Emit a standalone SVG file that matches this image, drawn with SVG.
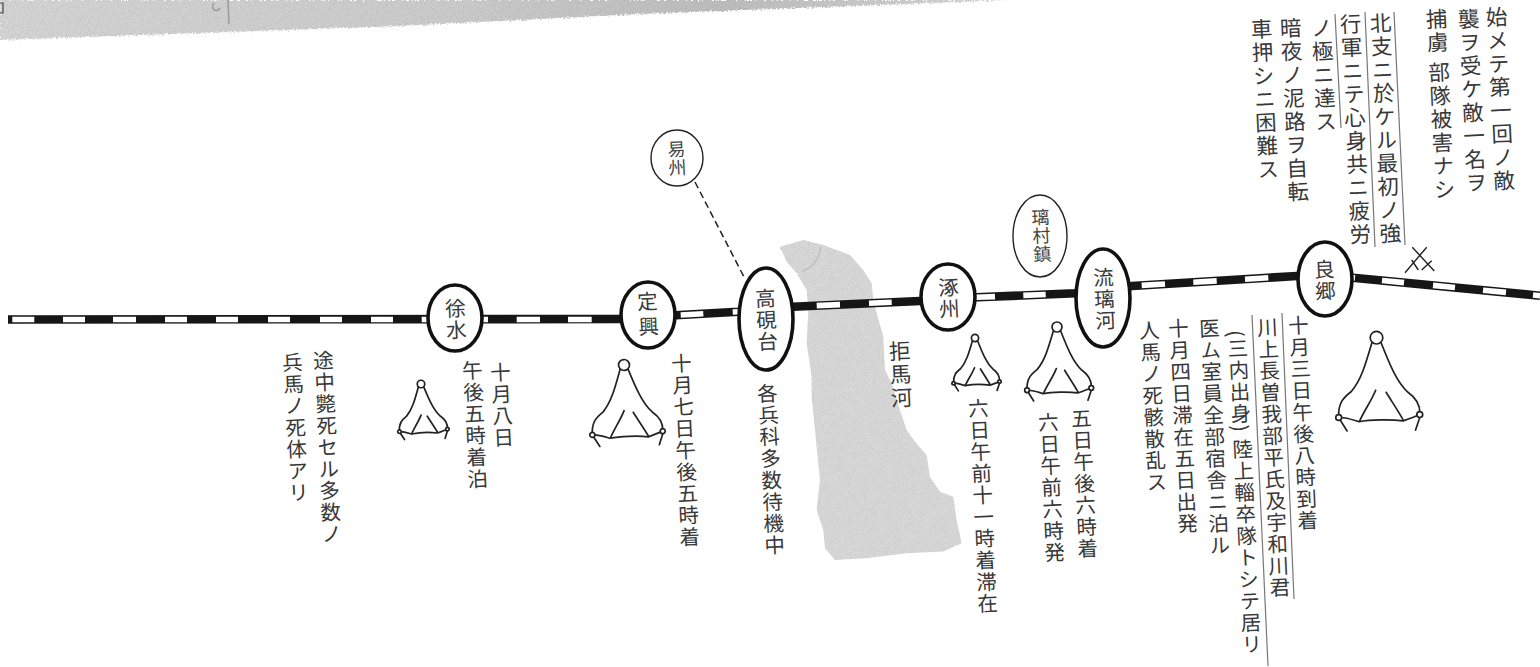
<svg xmlns="http://www.w3.org/2000/svg" xmlns:xlink="http://www.w3.org/1999/xlink" width="1540" height="667" viewBox="0 0 1540 667">
<style>
text{font-family:"Noto Sans CJK JP","Noto Sans CJK SC",sans-serif;writing-mode:vertical-rl;fill:#383838;font-weight:400}
.a{font-size:20.5px;letter-spacing:1.2px}
.t{font-size:21.5px;letter-spacing:1.9px}
.n{font-size:20.5px;letter-spacing:1px;fill:#3a3a3a}
.s{font-size:18px;letter-spacing:.5px;fill:#444}
.st{fill:#fff;stroke:#111;stroke-width:3.6}
.th{fill:#fff;stroke:#222;stroke-width:1.4}
.tent *{fill:none;stroke:#222;stroke-width:1.7;vector-effect:non-scaling-stroke;stroke-linecap:round;stroke-linejoin:round}
.tent circle{fill:#fff}
.rule{stroke:#777;stroke-width:1.2;fill:none}
</style>
<defs>
<linearGradient id="band" x1="0" y1="0" x2="1" y2="0">
<stop offset="0" stop-color="#d4d4d4"/><stop offset=".45" stop-color="#cbcbcb"/><stop offset=".72" stop-color="#bdbdbd"/><stop offset="1" stop-color="#d6d6d6"/>
</linearGradient>
<filter id="grain" x="-5%" y="-5%" width="110%" height="110%">
<feTurbulence type="fractalNoise" baseFrequency=".6" numOctaves="2" seed="4" result="n"/>
<feDisplacementMap in="SourceGraphic" in2="n" scale="5" xChannelSelector="R" yChannelSelector="G" result="d"/>
<feColorMatrix in="n" type="matrix" values="0 0 0 0 0  0 0 0 0 0  0 0 0 0 0  .3 0 0 0 -.12" result="sp"/>
<feComposite in="sp" in2="d" operator="in" result="spk"/>
<feMerge><feMergeNode in="d"/><feMergeNode in="spk"/></feMerge>
</filter>
<g id="tent" class="tent">
<circle cx="0" cy="0" r="15"/>
<path d="M-11,12C-25,60-36,100-60,128C-78,142-92,155-90,190"/>
<path d="M11,12C30,60 48,106 75,130C92,142 104,160 103,180"/>
<path d="M-87,190C-70,190-55,196-42,200C-15,195 35,194 63,198C75,194 90,188 103,183"/>
<path d="M-87,195L-70,222M103,190L93,220"/>
<path d="M-2,125C-12,150-30,175-40,198M23,130C35,150 52,175 63,195"/>
<circle cx="-90" cy="190" r="7"/><circle cx="103" cy="183" r="7"/>
</g>
</defs>

<polygon points="0,0 1010,0 800,8 640,14 400,26 200,33 0,40" fill="url(#band)" filter="url(#grain)"/>
<path d="M228,0L229,24M214,3C210,8 216,14 220,8" stroke="#9a9a9a" stroke-width="1.5" fill="none"/>
<path d="M0,3H3V13H0" stroke="#444" stroke-width="1.2" fill="none"/>

<g id="river">
<g transform="translate(590 130) scale(.3333)">
<polygon fill="#d8d8d8" filter="url(#grain)" points="570,350 640,330 700,345 780,375 820,420 845,460 850,510 860,550 880,620 885,720 905,760 930,840 950,900 975,935 1010,975 1020,1040 1050,1085 1090,1100 1100,1170 1115,1240 1060,1265 950,1270 830,1285 735,1290 705,1255 700,1200 680,1140 690,1050 680,950 665,800 665,740 650,640 655,540 650,480 620,430 590,395"/>
<path d="M692,350C690,385 670,410 635,425" fill="none" stroke="#bdbdbd" stroke-width="4"/>
</g>
</g>

<g id="connectors">
<polyline fill="none" stroke="#161616" stroke-width="8.6" points="8,319.5 621,319 648,317 680,315 738,311.7 793,306.7 920,301 977,297.3 1075,293.3 1132,286 1297,276 1325,274 1353,277.7 1540,295.7"/>
<path fill="none" stroke="#fff" stroke-width="5.6" d="M12.3,319.5H34.3M63,319.5H85M113,319.5H136M165,319.5H187M216,319.5H238M268,319.5H290M320,319.5H342M371,319.5H393M421.7,319.5H427M482.7,319.5H488M516.7,319.5H540M568,319.5H591.7M680.7,315L703.3,313.7M732.7,312L738,311.7M816.7,305.6L840,304.6M869,303.3L891.7,302.3M975.7,297.3L995,296.6M1023.3,295.4L1045.7,294.5M1141.7,285.4L1165,284M1193.3,282.3L1216.7,280.9M1245,279.2L1268.3,277.7M1353,277.7L1355,277.9M1382,280.5L1404,282.6M1433,285.4L1455,287.5M1483,290.2L1506,292.4M1533,295L1540,295.7"/>
<line x1="695" y1="182" x2="744" y2="277" stroke="#222" stroke-width="1.5" stroke-dasharray="7 4"/>
</g>

<g id="node-xushui"><ellipse class="st" cx="455" cy="318" rx="27" ry="33"/><text class="n" transform="translate(455 298) rotate(-2.7)">徐水</text></g>
<g id="node-dingxing"><ellipse class="st" cx="648" cy="315" rx="27" ry="33"/><text class="n" style="letter-spacing:4.5px" transform="translate(647 291) rotate(-2.7)">定興</text></g>
<g id="node-gaoyantai"><ellipse class="st" cx="766" cy="319" rx="27" ry="51"/><text class="n" transform="translate(765 288) rotate(-2.7)">高硯台</text></g>
<g id="node-zhuozhou"><ellipse class="st" cx="948" cy="297" rx="27" ry="33"/><text class="n" transform="translate(948 277) rotate(-2.7)">涿州</text></g>
<g id="node-liulihe"><ellipse class="st" cx="1103" cy="298" rx="27" ry="49"/><text class="n" transform="translate(1103 267) rotate(-2.7)">流璃河</text></g>
<g id="node-liangxiang"><ellipse class="st" cx="1325" cy="279" rx="27" ry="37"/><text class="n" transform="translate(1324 259) rotate(-2.7)">良郷</text></g>
<g id="node-yizhou"><ellipse class="th" cx="677" cy="158" rx="26" ry="28"/><text class="s" transform="translate(676 140) rotate(-2.7)">易州</text></g>
<g id="node-licunzhen"><ellipse class="th" cx="1040" cy="236" rx="27" ry="41"/><text class="s" transform="translate(1040 208) rotate(-2.7)">璃村鎮</text></g>

<g id="tents">
<use xlink:href="#tent" href="#tent" transform="translate(421 384) rotate(-1) scale(.249)"/>
<use xlink:href="#tent" href="#tent" transform="translate(624 365) rotate(-1) scale(.365)"/>
<use xlink:href="#tent" href="#tent" transform="translate(975 338) scale(.238)"/>
<use xlink:href="#tent" href="#tent" transform="translate(1057 327) scale(.333)"/>
<use xlink:href="#tent" href="#tent" transform="translate(1376.5 337.7) scale(.42)"/>
</g>

<g id="crossed-swords" fill="none" stroke="#222" stroke-width="1.4">
<path d="M1426.7,247.3L1405,272.7M1412.3,247.3L1434.3,271M1411.7,260L1418.3,270M1421.7,270L1431.7,260.7"/>
</g>

<g id="rules">
<line class="rule" x1="1394" y1="12" x2="1405" y2="245"/>
<line class="rule" x1="1365" y1="12" x2="1375" y2="247"/>
<line class="rule" x1="1335" y1="14" x2="1341" y2="128"/>
<line class="rule" x1="1282" y1="313" x2="1294" y2="599"/>
<line class="rule" x1="1252" y1="315" x2="1268" y2="666"/>
</g>

<g id="notes">
<text class="t" transform="translate(1496 6) rotate(-2.7)">始メテ第一回ノ敵</text>
<text class="t" transform="translate(1468 8) rotate(-2.7)">襲ヲ受ケ敵一名ヲ</text>
<text class="t" transform="translate(1436 8) rotate(-2.7)">捕虜 部隊被害ナシ</text>
<text class="t" transform="translate(1380 12) rotate(-2.7)">北支ニ於ケル最初ノ強</text>
<text class="t" transform="translate(1350 13) rotate(-2.7)">行軍ニテ心身共ニ疲労</text>
<text class="t" transform="translate(1321 17) rotate(-2.7)">ノ極ニ達ス</text>
<text class="t" transform="translate(1290 17) rotate(-2.7)">暗夜ノ泥路ヲ自転</text>
<text class="t" transform="translate(1261 18) rotate(-2.7)">車押シニ困難ス</text>

<text class="a" transform="translate(1298 315) rotate(-2.7)">十月三日午後八時到着</text>
<text class="a" transform="translate(1267 317) rotate(-2.7)">川上長曽我部平氏及宇和川君</text>
<text class="a" transform="translate(1237 330) rotate(-2.7)">(三内出身) 陸上輜卒隊トシテ居リ</text>
<text class="a" transform="translate(1209 318) rotate(-2.7)">医ム室員全部宿舎ニ泊ル</text>
<text class="a" transform="translate(1178 318) rotate(-2.7)">十月四日滞在五日出発</text>
<text class="a" transform="translate(1149 320) rotate(-2.7)">人馬ノ死骸散乱ス</text>
<text class="a" transform="translate(1081 408) rotate(-2.7)">五日午後六時着</text>
<text class="a" transform="translate(1048 412) rotate(-2.7)">六日午前六時発</text>
<text class="a" transform="translate(978 398) rotate(-2.7)">六日午前十一時着滞在</text>
<text class="t" transform="translate(899 340) rotate(-2.7)">拒馬河</text>
<text class="a" transform="translate(681 353) rotate(-2.7)">十月七日午後五時着</text>
<text class="a" transform="translate(767 383) rotate(-2.7)">各兵科多数待機中</text>
<text class="a" transform="translate(500 362) rotate(-2.7)">十月八日</text>
<text class="a" transform="translate(472 360) rotate(-2.7)">午後五時着泊</text>
<text class="a" transform="translate(323 350) rotate(-2.7)">途中斃死セル多数ノ</text>
<text class="a" transform="translate(292 352) rotate(-2.7)">兵馬ノ死体アリ</text>
</g>
</svg>
